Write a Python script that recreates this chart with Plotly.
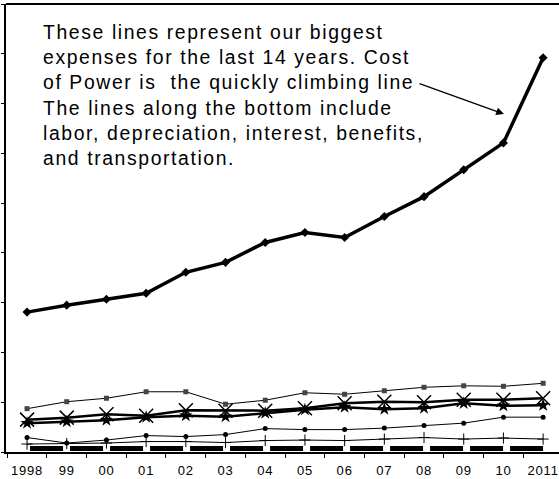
import plotly.graph_objects as go

years = ["1998", "99", "00", "01", "02", "03", "04", "05", "06", "07", "08", "09", "10", "2011"]

power = [2.81, 2.95, 3.07, 3.19, 3.61, 3.81, 4.21, 4.41, 4.31, 4.73, 5.13, 5.67, 6.21, 7.92]
labor = [0.87, 1.01, 1.08, 1.21, 1.21, 0.96, 1.04, 1.19, 1.16, 1.23, 1.30, 1.33, 1.32, 1.38]
depreciation = [0.65, 0.69, 0.76, 0.73, 0.84, 0.83, 0.83, 0.88, 0.98, 1.01, 1.00, 1.05, 1.05, 1.08]
interest = [0.58, 0.61, 0.64, 0.70, 0.73, 0.71, 0.78, 0.85, 0.90, 0.86, 0.88, 0.98, 0.93, 0.94]
benefits = [0.29, 0.18, 0.24, 0.33, 0.31, 0.35, 0.47, 0.45, 0.45, 0.48, 0.53, 0.58, 0.70, 0.70]
transportation = [0.16, 0.17, 0.18, 0.21, 0.21, 0.19, 0.23, 0.24, 0.23, 0.26, 0.29, 0.26, 0.28, 0.26]
other = [0.07, 0.07, 0.07, 0.07, 0.07, 0.07, 0.07, 0.07, 0.07, 0.07, 0.07, 0.07, 0.07, 0.07]

note = ("These lines represent our biggest<br>"
        "expenses for the last 14 years. Cost<br>"
        "of Power is  the quickly climbing line<br>"
        "The lines along the bottom include<br>"
        "labor, depreciation, interest, benefits,<br>"
        "and transportation.")

FONT = "Arial, Liberation Sans, sans-serif"

fig = go.Figure()

fig.add_trace(go.Scatter(x=years, y=other, mode="lines",
                         line=dict(color="black", width=5, dash="0px,3px,33px,4px")))
fig.add_trace(go.Scatter(x=years, y=transportation, mode="lines+markers",
                         line=dict(color="black", width=1),
                         marker=dict(symbol="cross-thin-open", size=8, line=dict(color="black", width=1))))
fig.add_trace(go.Scatter(x=years, y=benefits, mode="lines+markers",
                         line=dict(color="black", width=1),
                         marker=dict(symbol="circle", size=5, color="black")))
fig.add_trace(go.Scatter(x=years, y=interest, mode="lines+markers",
                         line=dict(color="black", width=2.5),
                         marker=dict(symbol="star", size=10, color="black")))
fig.add_trace(go.Scatter(x=years, y=depreciation, mode="lines+markers",
                         line=dict(color="black", width=2.5),
                         marker=dict(symbol="x-thin-open", size=14, line=dict(color="black", width=1.5))))
fig.add_trace(go.Scatter(x=years, y=labor, mode="lines+markers",
                         line=dict(color="black", width=1),
                         marker=dict(symbol="square", size=5, color="#444444")))
fig.add_trace(go.Scatter(x=years, y=power, mode="lines+markers",
                         line=dict(color="black", width=3.5),
                         marker=dict(symbol="diamond", size=7, color="black")))

fig.update_layout(
    width=559, height=479,
    margin=dict(l=6, r=0, t=4, b=27),
    paper_bgcolor="white", plot_bgcolor="white",
    showlegend=False,
    font=dict(family=FONT, color="black"),
    xaxis=dict(type="category", range=[-0.53, 13.4], showgrid=False, zeroline=False,
               showline=True, linecolor="black", linewidth=1.5,
               ticks="outside", tickson="boundaries", ticklen=4, tickcolor="black", tickwidth=1,
               tickfont=dict(size=13, family=FONT), ticklabelstandoff=6),
    yaxis=dict(range=[0, 9], dtick=1, showgrid=False, zeroline=False,
               showline=True, linecolor="black", linewidth=2,
               ticks="outside", ticklen=3, tickcolor="black", showticklabels=False),
    shapes=[dict(type="line", xref="paper", yref="paper", x0=0, x1=1, y0=1, y1=1,
                 line=dict(color="black", width=2))],
    annotations=[
        dict(text=note, xref="paper", yref="paper", x=0.064, y=0.967, xanchor="left", yanchor="top",
             align="left", showarrow=False, font=dict(size=19.4, color="black", family=FONT)),
        dict(text="", xref="paper", yref="paper", x=(504 - 6) / 553, y=(452 - 114) / 448,
             axref="pixel", ayref="pixel", ax=-86, ay=-31, showarrow=True,
             arrowhead=2, arrowsize=1.2, arrowwidth=1.3, arrowcolor="black"),
    ],
)

post = ("document.body.style.margin='0';"
        "document.querySelectorAll('.annotation-text').forEach(function(e){e.style.letterSpacing='1.6px';});"
        "document.querySelectorAll('.xtick text').forEach(function(e){e.style.letterSpacing='0.8px';});")

fig.write_html("out.html", post_script=post, config={"displayModeBar": False})
